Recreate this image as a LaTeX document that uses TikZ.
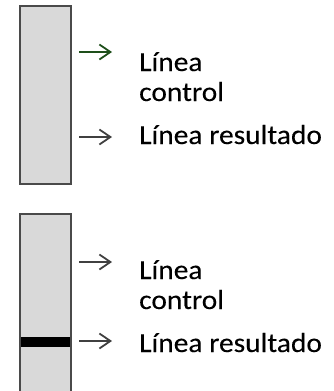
\documentclass[tikz,border=0pt]{standalone}
\usepackage{fontspec}
\setmainfont{Carlito}[FakeStretch=1.07,FakeBold=0.15]
\usetikzlibrary{arrows.meta}
\definecolor{stripfill}{HTML}{D9D9D9}
\definecolor{stripline}{HTML}{4A4A4A}
\definecolor{ctrlgreen}{HTML}{1E4F1A}
\definecolor{arrowgray}{HTML}{404040}
\tikzset{
  lbl/.style={anchor=base west, inner sep=0pt, font=\fontsize{27.5}{30}\selectfont},
  pointer/.style={line width=1.8pt, -{Straight Barb[length=11pt,width=15pt,line width=1.8pt]}},
  stripbox/.style={fill=stripfill, draw=stripline, line width=2pt},
}
\begin{document}
\begin{tikzpicture}[x=1pt,y=-1pt]
\useasboundingbox (0,0) rectangle (333,391);
% top strip
\draw[stripbox] (19.5,5.5) rectangle (70.5,184);
% bottom strip (open at the bottom)
\fill[stripfill] (19.5,214) rectangle (70.5,395);
\fill[black] (19.5,337) rectangle (70.5,347);
\draw[stripline, line width=2pt] (19.5,395) -- (19.5,214) -- (70.5,214) -- (70.5,395);
% top labels
\node[lbl] (t1) at (139,71) {Línea};
\node[lbl] (t2) at (139,101) {control};
\node[lbl] (t3) at (139,144) {Línea resultado};
\coordinate (a1s) at (79,52);  \coordinate (a1e) at (112,52);
\coordinate (a2s) at (79,137); \coordinate (a2e) at (112,137);
\draw[pointer, ctrlgreen] (a1s) -- (a1e);
\draw[pointer, arrowgray] (a2s) -- (a2e);
% bottom labels
\node[lbl] (b1) at (139,279) {Línea};
\node[lbl] (b2) at (139,309) {control};
\node[lbl] (b3) at (139,352) {Línea resultado};
\coordinate (a3s) at (79,262);  \coordinate (a3e) at (112,262);
\coordinate (a4s) at (79,341); \coordinate (a4e) at (112,341);
\draw[pointer, arrowgray] (a3s) -- (a3e);
\draw[pointer, arrowgray] (a4s) -- (a4e);
\end{tikzpicture}
\end{document}
